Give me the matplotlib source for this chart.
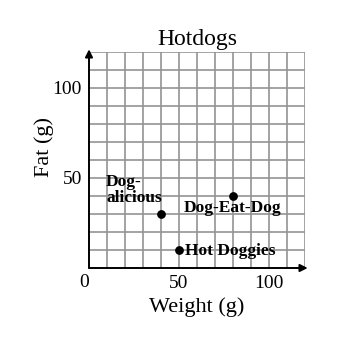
import matplotlib
matplotlib.use("Agg")
import matplotlib.pyplot as plt
import numpy as np

names = ["Dog-\nalicious", "Dog-Eat-Dog", "Hot Doggies"]
weight = [40, 80, 50]
fat = [30, 40, 10]
label_pos = [(9.5, 52.5), (52.8, 33.4), (53.2, 9.5)]
ticks = [0, 50, 100]
grid_vals = list(range(10, 121, 10))

plt.rcParams['font.family'] = ['Liberation Serif', 'DejaVu Serif']

fig = plt.figure(figsize=(3.6, 3.6), dpi=100)
ax = fig.add_axes([89/360, 92/360, 216/360, 216/360])
ax.set_xlim(0, 120)
ax.set_ylim(0, 120)
for g in grid_vals:
    ax.axvline(g, color='#939393', linewidth=1.2, zorder=1)
    ax.axhline(g, color='#939393', linewidth=1.2, zorder=1)
ax.set_xticks(ticks[1:])
ax.set_yticks(ticks[1:])
ax.set_xticklabels([str(t) for t in ticks[1:]], fontsize=14)
ax.set_yticklabels([str(t) for t in ticks[1:]], fontsize=14)
ax.tick_params(which='both', length=0)
ax.tick_params(axis='x', pad=5)
ax.tick_params(axis='y', pad=5)
for s in ax.spines.values():
    s.set_visible(False)

ax.annotate('', xy=(121.5, 0), xytext=(0, 0),
            arrowprops=dict(arrowstyle='-|>', color='black', lw=1.4, mutation_scale=11, shrinkA=0, shrinkB=0),
            annotation_clip=False)
ax.annotate('', xy=(0, 121.5), xytext=(0, 0),
            arrowprops=dict(arrowstyle='-|>', color='black', lw=1.4, mutation_scale=11, shrinkA=0, shrinkB=0),
            annotation_clip=False)
ax.text(-2.5, -8, '0', ha='center', va='center', fontsize=14)

ax.scatter(weight, fat, s=28, color='black', zorder=5, clip_on=False)
for n, (lx, ly) in zip(names, label_pos):
    if '\n' in n:
        ax.text(lx, ly, n, ha='left', va='top', fontsize=12.5, fontweight='bold', linespacing=1.0)
    else:
        ax.text(lx, ly, n, ha='left', va='center', fontsize=12.5, fontweight='bold')

ax.set_title('Hotdogs', fontsize=17, pad=5)
ax.set_xlabel('Weight (g)', fontsize=16, labelpad=4)
ax.set_ylabel('Fat (g)', fontsize=16)
ax.yaxis.set_label_coords(-0.16, 0.56)

fig.savefig('out.png', dpi=100)
